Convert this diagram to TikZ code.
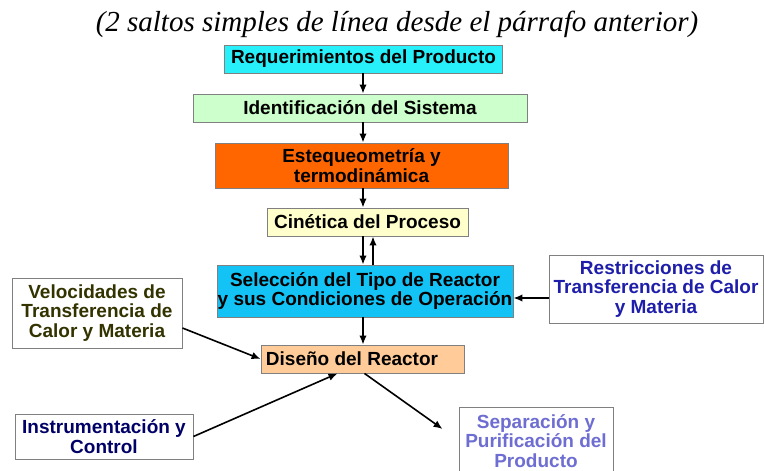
\documentclass[tikz,border=0pt]{standalone}
\usepackage{fontspec}
\setmainfont{Liberation Sans}
\newfontfamily\titlefont{Liberation Serif}
\usetikzlibrary{arrows.meta,calc}
\definecolor{cReq}{RGB}{40,240,250}
\definecolor{cIdent}{RGB}{204,255,204}
\definecolor{cEste}{RGB}{255,102,0}
\definecolor{cCin}{RGB}{255,255,204}
\definecolor{cSel}{RGB}{20,195,245}
\definecolor{cDis}{RGB}{255,204,153}
\definecolor{cBorder}{RGB}{128,128,128}
\definecolor{tVel}{RGB}{51,51,0}
\definecolor{tIns}{RGB}{0,0,102}
\definecolor{tRes}{RGB}{30,30,170}
\definecolor{tSep}{RGB}{110,110,210}
\tikzset{
  box/.style={draw=cBorder, line width=0.9pt, rectangle, inner sep=0pt, align=center,
    font=\fontsize{19}{19.5}\selectfont\bfseries},
  arr/.style={line width=1.6pt, -{Latex[length=9pt,width=7.5pt]}},
}
\begin{document}
\begin{tikzpicture}[x=1pt,y=-1pt]
\clip (0,0) rectangle (764,471);
\fill[white] (0,0) rectangle (764,471);
\node[font=\titlefont\itshape\fontsize{29}{31}\selectfont] (title) at (397,24) {(2 saltos simples de línea desde el párrafo anterior)};
\node[box, fill=cReq, minimum width=278pt, minimum height=28pt] (req) at (363.5,59) {Requerimientos del Producto};
\node[box, fill=cIdent, minimum width=334pt, minimum height=28pt] (ident) at (360,108) {Identificación del Sistema};
\node[box, fill=cEste, minimum width=293pt, minimum height=45pt] (este) at (361.5,165.5) {Estequeometría y\\termodinámica};
\node[box, fill=cCin, minimum width=201pt, minimum height=28pt] (cin) at (367.5,222) {Cinética del Proceso};
\node[box, fill=cSel, minimum width=296pt, minimum height=52pt] (sel) at (365,291) {Selección del Tipo de Reactor\\y sus Condiciones de Operación};
\node[box, fill=cDis, minimum width=203pt, minimum height=28pt] (dis) at (362.5,359) {Diseño del Reactor\hspace*{21pt}};
\node[box, fill=white, text=tVel, minimum width=170pt, minimum height=70pt] (vel) at (97,313) {Velocidades de\\Transferencia de\\Calor y Materia};
\node[box, fill=white, text=tIns, minimum width=178pt, minimum height=45pt] (ins) at (104,436.5) {Instrumentación y\\Control};
\node[box, fill=white, text=tRes, minimum width=214pt, minimum height=68pt] (res) at (656,289) {Restricciones de\\Transferencia de Calor\\y Materia};
\node[box, fill=white, text=tSep, minimum width=154pt, minimum height=68pt] (sep) at (536,441) {Separación y\\Purificación del\\Producto};
% connectors
\draw[arr] (req.south -| 363,0) -- (363,0 |- ident.north);
\draw[arr] (ident.south -| 363,0) -- (363,0 |- este.north);
\draw[arr] (este.south -| 363,0) -- (363,0 |- cin.north);
\draw[arr] (cin.south -| 363,0) -- (363,0 |- sel.north);
\draw[arr] (sel.north -| 373,0) -- (373,0 |- cin.south);
\draw[arr] (sel.south -| 363,0) -- (363,0 |- dis.north);
\draw[arr] ([yshift=-9pt]res.west) -- ([yshift=-9pt]res.west -| sel.east);
\draw[arr] ([yshift=-15pt]vel.east) -- (dis.west);
\draw[arr] (ins.east) -- ([xshift=-25pt]dis.south);
\draw[arr] ([xshift=2pt]dis.south) -- ([xshift=-16pt,yshift=12pt]sep.west);
\end{tikzpicture}
\end{document}
